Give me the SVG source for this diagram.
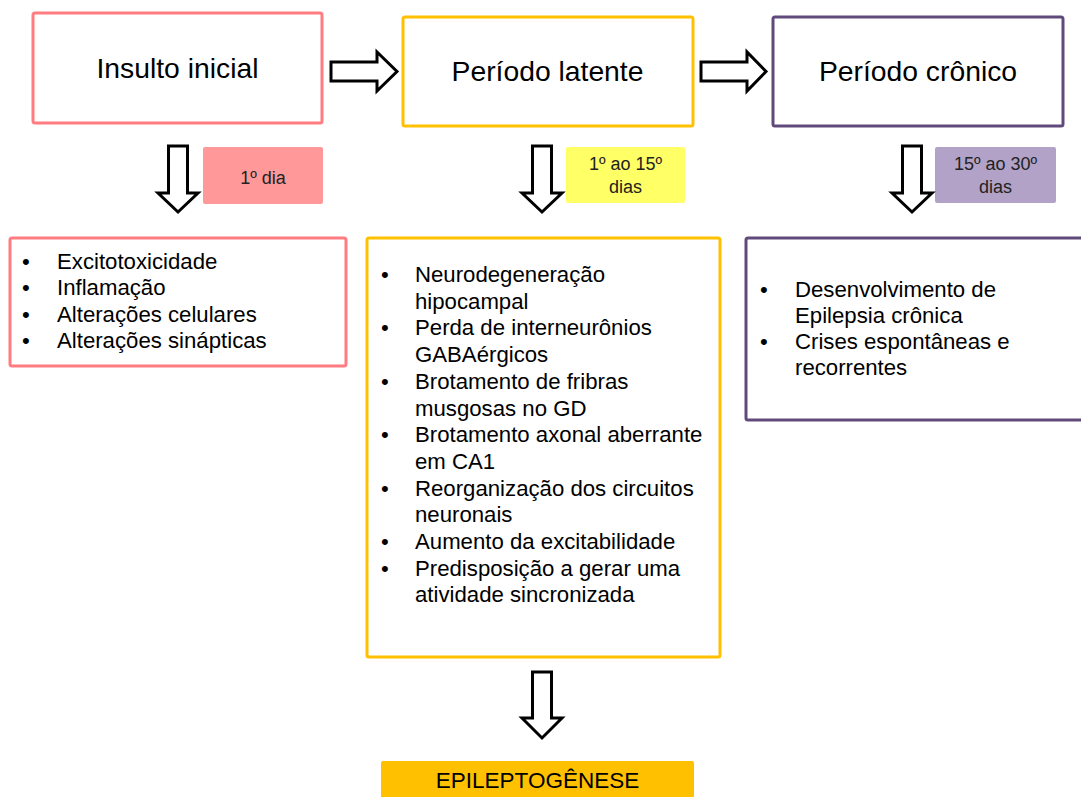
<svg xmlns="http://www.w3.org/2000/svg" width="1081" height="797" viewBox="0 0 1081 797">
<style>
text{font-family:"Liberation Sans",Arial,sans-serif;fill:#000}
.title{font-size:28.3px;text-anchor:middle}
.lbl{font-size:18px;text-anchor:middle;fill:#222}
.li{font-size:22.2px}
.box{fill:#fff;stroke-width:3}
.arr{fill:#fff;stroke:#000;stroke-width:3;stroke-linejoin:miter}
</style>
<rect width="1081" height="797" fill="#fff"/>
<g id="insulto">
<rect class="box" x="33" y="13" width="289" height="110" rx="2" stroke="#FF7C80"/>
<text class="title" x="177.5" y="78">Insulto inicial</text>
</g>
<g id="latente">
<rect class="box" x="403" y="17" width="290" height="109" rx="2" stroke="#FFC000"/>
<text class="title" x="547.5" y="81">Período latente</text>
</g>
<g id="cronico">
<rect class="box" x="773" y="17" width="290" height="109" rx="2" stroke="#604A7B"/>
<text class="title" x="918" y="81">Período crônico</text>
</g>
<g id="lbl1">
<rect x="203" y="147" width="120" height="57" rx="2" fill="#FF9999"/>
<text class="lbl" x="263" y="184">1º dia</text>
</g>
<g id="lbl2">
<rect x="566" y="147" width="119" height="56" rx="2" fill="#FFFF66"/>
<text class="lbl" x="625.5" y="169.5">1º ao 15º</text>
<text class="lbl" x="625.5" y="193">dias</text>
</g>
<g id="lbl3">
<rect x="935" y="147" width="121" height="56" rx="2" fill="#B3A2C7"/>
<text class="lbl" x="995.5" y="169.5">15º ao 30º</text>
<text class="lbl" x="995.5" y="193">dias</text>
</g>
<g id="list1">
<rect class="box" x="10" y="238" width="336" height="128" rx="2" stroke="#FF7C80"/>
<g class="li">
<text x="22" y="268.5">•</text><text x="57" y="268.5">Excitotoxicidade</text>
<text x="22" y="295">•</text><text x="57" y="295">Inflamação</text>
<text x="22" y="321.5">•</text><text x="57" y="321.5">Alterações celulares</text>
<text x="22" y="348">•</text><text x="57" y="348">Alterações sinápticas</text>
</g>
</g>
<g id="list2">
<rect class="box" x="367" y="238" width="353" height="419" rx="2" stroke="#FFC000"/>
<g class="li">
<text x="381" y="282">•</text><text x="415" y="282">Neurodegeneração</text>
<text x="415" y="308.7">hipocampal</text>
<text x="381" y="335.4">•</text><text x="415" y="335.4">Perda de interneurônios</text>
<text x="415" y="362.1">GABAérgicos</text>
<text x="381" y="388.8">•</text><text x="415" y="388.8">Brotamento de fribras</text>
<text x="415" y="415.5">musgosas no GD</text>
<text x="381" y="442.2">•</text><text x="415" y="442.2">Brotamento axonal aberrante</text>
<text x="415" y="468.9">em CA1</text>
<text x="381" y="495.6">•</text><text x="415" y="495.6">Reorganização dos circuitos</text>
<text x="415" y="522.3">neuronais</text>
<text x="381" y="549">•</text><text x="415" y="549">Aumento da excitabilidade</text>
<text x="381" y="575.7">•</text><text x="415" y="575.7">Predisposição a gerar uma</text>
<text x="415" y="602.4">atividade sincronizada</text>
</g>
</g>
<g id="list3">
<rect class="box" x="746" y="238" width="345" height="182" rx="2" stroke="#604A7B"/>
<g class="li">
<text x="760" y="296.5">•</text><text x="795" y="296.5">Desenvolvimento de</text>
<text x="795" y="322.5">Epilepsia crônica</text>
<text x="760" y="348.5">•</text><text x="795" y="348.5">Crises espontâneas e</text>
<text x="795" y="375">recorrentes</text>
</g>
</g>
<g id="epileptogenese">
<rect x="381" y="761" width="313" height="45" rx="2" fill="#FFC000"/>
<text x="537.5" y="788" font-size="22.5" text-anchor="middle">EPILEPTOGÊNESE</text>
</g>
<g id="connectors">
<path class="arr" d="M331,62 H377 V52 L397,71.5 L377,91 V81 H331 Z"/>
<path class="arr" d="M701,62 H747 V52 L766,71.5 L747,91 V81 H701 Z"/>
<path class="arr" d="M168.5,146 H187.5 V193 H198 L178,212 L158,193 H168.5 Z"/>
<path class="arr" d="M532.5,146 H551.5 V193 H562 L542,212 L522,193 H532.5 Z"/>
<path class="arr" d="M902.5,146 H921.5 V193 H932 L912,212 L892,193 H902.5 Z"/>
<path class="arr" d="M532.5,672 H551.5 V718 H562 L542,738 L522,718 H532.5 Z"/>
</g>
</svg>
